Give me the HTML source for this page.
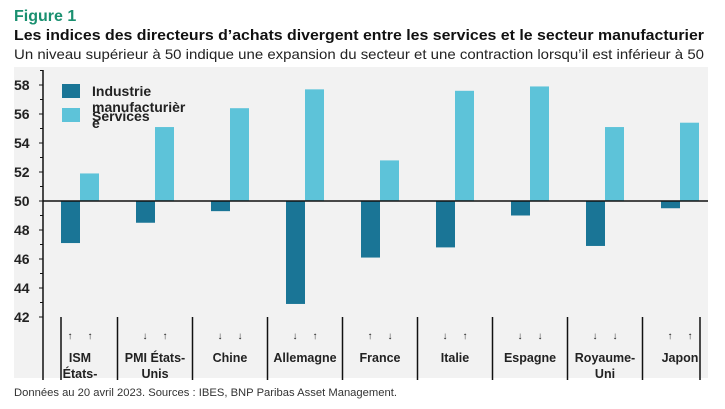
<!DOCTYPE html>
<html><head><meta charset="utf-8"><style>
body{margin:0;background:#fff;}
svg{display:block;font-family:"Liberation Sans",sans-serif;}
</style></head><body>
<svg width="725" height="409" viewBox="0 0 725 409">
<text x="14" y="21" font-size="16" font-weight="bold" fill="#1a9070">Figure 1</text>
<text x="14" y="40" font-size="15" font-weight="bold" fill="#111" textLength="690" lengthAdjust="spacingAndGlyphs">Les indices des directeurs d’achats divergent entre les services et le secteur manufacturier</text>
<text x="14" y="59" font-size="14" fill="#222" textLength="690" lengthAdjust="spacingAndGlyphs">Un niveau supérieur à 50 indique une expansion du secteur et une contraction lorsqu’il est inférieur à 50</text>
<rect x="14" y="67" width="694" height="311" fill="#f2f2f2"/>
<g id="yaxis"></g>
<g id="bars"></g>
<g id="cats"></g>
<g font-family="Liberation Sans Narrow, Liberation Sans, sans-serif" font-weight="bold" font-size="14" fill="#222">
<rect x="62" y="84" width="18" height="14" fill="#1a7596"/>
<text x="92" y="96">Industrie</text>
<text x="92" y="112">manufacturièr</text>
<text x="92" y="128">e</text>
<rect x="62" y="108" width="18" height="14" fill="#5dc3d9"/>
<text x="92" y="121">Services</text>
</g>
<text x="14" y="396" font-size="11" fill="#333" textLength="383" lengthAdjust="spacingAndGlyphs">Données au 20 avril 2023.  Sources : IBES, BNP Paribas Asset Management.</text>
</svg>
<script>
const categories=["ISM États-Unis","PMI États-Unis","Chine","Allemagne","France","Italie","Espagne","Royaume-Uni","Japon"];
const catLine1=["ISM","PMI États-","Chine","Allemagne","France","Italie","Espagne","Royaume-","Japon"];
const catLine2=["États-","Unis","","","","","","Uni",""];
const industrie=[47.1,48.5,49.3,42.9,46.1,46.8,49.0,46.9,49.5];
const services=[51.9,55.1,56.4,57.7,52.8,57.6,57.9,55.1,55.4];
const arrowsInd=["↑","↓","↓","↓","↑","↓","↓","↓","↑"];
const arrowsSer=["↑","↑","↓","↑","↓","↑","↓","↓","↑"];
const yTicks=[42,44,46,48,50,52,54,56,58];
const NS="http://www.w3.org/2000/svg";
const y=v=>201-(v-50)*14.5;
const bandW=75, band0=42.5;
const cx=i=>band0+bandW*(i+0.5);
function mk(t,a,p){const e=document.createElementNS(NS,t);for(const k in a)e.setAttribute(k,a[k]);p.appendChild(e);return e;}
const ya=document.getElementById('yaxis');
mk('line',{x1:43,y1:70,x2:43,y2:380,stroke:'#111','stroke-width':1.5},ya);
yTicks.forEach(t=>{
 mk('line',{x1:39,y1:y(t),x2:43,y2:y(t),stroke:'#111'},ya);
 mk('line',{x1:40,y1:y(t+1),x2:43,y2:y(t+1),stroke:'#111'},ya);
 const tx=mk('text',{x:14,y:y(t)+5,'font-size':14,'font-weight':'bold',fill:'#222','font-family':'Liberation Sans Narrow, Liberation Sans, sans-serif'},ya);
 tx.textContent=t;
 
 
});
const bg=document.getElementById('bars');
categories.forEach((c,i)=>{
 const a=industrie[i], b=services[i];
 const r1=mk('rect',{x:cx(i)-19,y:Math.min(y(a),y(50)),width:19,height:Math.abs(y(a)-y(50)),fill:'#1a7596'},bg);
 
 
 const r2=mk('rect',{x:cx(i),y:Math.min(y(b),y(50)),width:19,height:Math.abs(y(b)-y(50)),fill:'#5dc3d9'},bg);
 
 
});
mk('line',{x1:43,y1:y(50),x2:708,y2:y(50),stroke:'#111','stroke-width':1.5},bg);
const cg=document.getElementById('cats');
const divs=[61];
for(let i=1;i<categories.length;i++)divs.push(band0+bandW*i);
divs.push(700);
divs.forEach(d=>mk('line',{x1:d,y1:317,x2:d,y2:380,stroke:'#111','stroke-width':1.5},cg));
categories.forEach((c,i)=>{
 const g=mk('g',{'font-family':'Liberation Sans Narrow, Liberation Sans, sans-serif','text-anchor':'middle',fill:'#222'},cg);
 
 
 mk('text',{x:cx(i)-10,y:339,'font-size':10},g).textContent=arrowsInd[i];
 mk('text',{x:cx(i)+10,y:339,'font-size':10},g).textContent=arrowsSer[i];
 mk('text',{x:cx(i),y:362,'font-size':12.5,'font-weight':'bold'},g).textContent=catLine1[i];
 if(catLine2[i])mk('text',{x:cx(i),y:378,'font-size':12.5,'font-weight':'bold'},g).textContent=catLine2[i];
});
</script>
</body></html>
